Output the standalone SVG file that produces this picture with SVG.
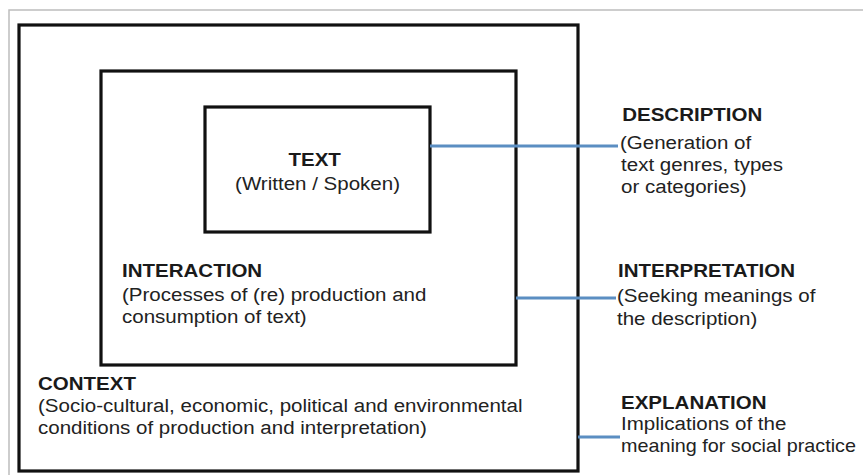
<svg xmlns="http://www.w3.org/2000/svg" width="863" height="475" viewBox="0 0 863 475">
  <style>
    .frame { fill: none; stroke: #bdbdbd; stroke-width: 1.5; }
    .box { fill: none; stroke: #111; stroke-width: 3.2; }
    .conn { stroke: #5b8ec2; stroke-width: 3; fill: none; }
    .t { font-family: "Liberation Sans", Arial, sans-serif; font-size: 19px; fill: #222; }
    .b { font-weight: bold; fill: #1a1a1a; }
  </style>
  <rect width="863" height="475" fill="#ffffff"/>
  <rect class="frame" x="9" y="10" width="870" height="480"/>

  <g id="context">
    <rect class="box" x="19" y="25" width="559" height="446"/>
    <text class="t" transform="translate(38,390) scale(1.08,1)">
      <tspan class="b" x="0" y="0">CONTEXT</tspan>
      <tspan x="0" y="22">(Socio-cultural, economic, political and environmental</tspan>
      <tspan x="0" y="44">conditions of production and interpretation)</tspan>
    </text>
  </g>

  <g id="interaction">
    <rect class="box" x="101" y="71" width="415" height="294"/>
    <text class="t" transform="translate(122,277) scale(1.08,1)">
      <tspan class="b" x="0" y="0">INTERACTION</tspan>
      <tspan x="0" y="24">(Processes of (re) production and</tspan>
      <tspan x="0" y="46">consumption of text)</tspan>
    </text>
  </g>

  <g id="text">
    <rect class="box" x="205" y="107" width="225" height="125"/>
    <text class="t" text-anchor="middle" transform="translate(317.5,166) scale(1.08,1)">
      <tspan class="b" x="0" y="0">TEXT</tspan>
      <tspan x="0" y="24">(Written / Spoken)</tspan>
    </text>
  </g>

  <g id="connectors">
    <line class="conn" x1="430" y1="146" x2="618" y2="146"/>
    <line class="conn" x1="516" y1="298" x2="616" y2="298"/>
    <line class="conn" x1="578" y1="437" x2="620" y2="437"/>
  </g>

  <g id="description">
    <text class="t" transform="translate(620,121) scale(1.08,1)">
      <tspan class="b" x="2" y="0">DESCRIPTION</tspan>
      <tspan x="0" y="28">(Generation of</tspan>
      <tspan x="1" y="50">text genres, types</tspan>
      <tspan x="1" y="72">or categories)</tspan>
    </text>
  </g>

  <g id="interpretation">
    <text class="t" transform="translate(617,277) scale(1.08,1)">
      <tspan class="b" x="1" y="0">INTERPRETATION</tspan>
      <tspan x="0" y="25">(Seeking meanings of</tspan>
      <tspan x="0" y="48">the description)</tspan>
    </text>
  </g>

  <g id="explanation">
    <text class="t" transform="translate(621,409) scale(1.08,1)">
      <tspan class="b" x="0" y="0">EXPLANATION</tspan>
      <tspan x="0" y="21">Implications of the</tspan>
    </text>
    <text class="t" transform="translate(621,452) scale(1.04,1)" font-size="18.5">meaning for social practice</text>
  </g>
</svg>
